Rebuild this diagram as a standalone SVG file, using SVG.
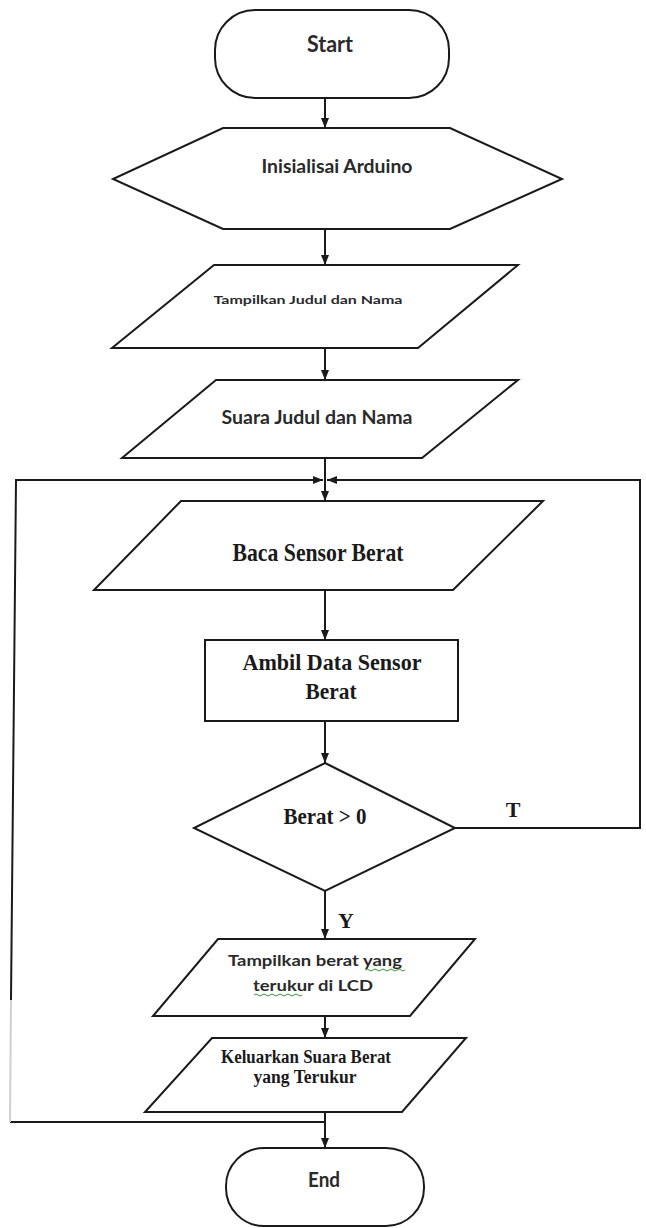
<svg xmlns="http://www.w3.org/2000/svg" width="646" height="1228" viewBox="0 0 646 1228">
<defs>
<marker id="arr" viewBox="0 0 10 8" refX="10" refY="4" markerWidth="10" markerHeight="8" markerUnits="userSpaceOnUse" orient="auto">
<path d="M0,0 L10,4 L0,8 z" fill="#1a1a1a"/>
</marker>
</defs>
<style>
.shape{fill:#fff;stroke:#1a1a1a;stroke-width:2}
.conn{fill:none;stroke:#1a1a1a;stroke-width:2}
.sans{font-family:Lato,"Open Sans","Liberation Sans",sans-serif;font-weight:bold;fill:#2a2a2a;text-anchor:middle}
.serif{font-family:"Liberation Serif","DejaVu Serif",serif;font-weight:bold;fill:#1a1a1a;text-anchor:middle}
.sq{fill:none;stroke:#3a9a3a;stroke-width:1}
</style>
<rect width="646" height="1228" fill="#fff"/>
<g id="connectors">
<line class="conn" x1="325" y1="98" x2="325" y2="128" marker-end="url(#arr)"/>
<line class="conn" x1="325" y1="229" x2="325" y2="265" marker-end="url(#arr)"/>
<line class="conn" x1="325" y1="348" x2="325" y2="380" marker-end="url(#arr)"/>
<line class="conn" x1="325" y1="458" x2="325" y2="501" marker-end="url(#arr)"/>
<line class="conn" x1="325" y1="590" x2="325" y2="640" marker-end="url(#arr)"/>
<line class="conn" x1="325" y1="721" x2="325" y2="763" marker-end="url(#arr)"/>
<line class="conn" x1="325" y1="891" x2="325" y2="939" marker-end="url(#arr)"/>
<line class="conn" x1="325" y1="1016" x2="325" y2="1038" marker-end="url(#arr)"/>
<line class="conn" x1="325" y1="1112" x2="325" y2="1148" marker-end="url(#arr)"/>
<line class="conn" x1="10" y1="1122" x2="325" y2="1122"/>
<line x1="10" y1="1122" x2="11" y2="1000" stroke="#d0d0d0" stroke-width="2"/>
<polyline class="conn" points="11,1000 16,480 323,480" marker-end="url(#arr)"/>
<polyline class="conn" points="455,828 640,828 640,480 327,480" marker-end="url(#arr)"/>
<text class="serif" x="513" y="817" font-size="22">T</text>
<text class="serif" x="346" y="928" font-size="22">Y</text>
</g>
<g id="start">
<rect class="shape" x="215" y="10" width="234" height="88" rx="40" ry="40"/>
<text class="sans" x="330" y="52" font-size="23" textLength="46" lengthAdjust="spacingAndGlyphs">Start</text>
</g>
<g id="init">
<polygon class="shape" points="223,128 450,128 562,179 450,229 223,229 113,179"/>
<text class="sans" x="337" y="173" font-size="19" textLength="151" lengthAdjust="spacingAndGlyphs">Inisialisai Arduino</text>
</g>
<g id="tampil-judul">
<polygon class="shape" points="214,265 518,265 418,348 112,348"/>
<text class="sans" x="308" y="304" font-size="11" textLength="189" lengthAdjust="spacingAndGlyphs">Tampilkan Judul dan Nama</text>
</g>
<g id="suara-judul">
<polygon class="shape" points="216,380 518,380 422,458 122,458"/>
<text class="sans" x="317" y="424" font-size="19" textLength="191" lengthAdjust="spacingAndGlyphs">Suara Judul dan Nama</text>
</g>
<g id="baca-sensor">
<polygon class="shape" points="181,501 543,501 453,590 94,590"/>
<text class="serif" x="318" y="561" font-size="25" textLength="171" lengthAdjust="spacingAndGlyphs">Baca Sensor Berat</text>
</g>
<g id="ambil-data">
<rect class="shape" x="205" y="640" width="253" height="81"/>
<text class="serif" x="332" y="670" font-size="24" textLength="179" lengthAdjust="spacingAndGlyphs">Ambil Data Sensor</text>
<text class="serif" x="331" y="699" font-size="24" textLength="51" lengthAdjust="spacingAndGlyphs">Berat</text>
</g>
<g id="decision">
<polygon class="shape" points="325,763 455,828 325,891 194,828"/>
<text class="serif" x="325" y="824" font-size="23" textLength="83" lengthAdjust="spacingAndGlyphs">Berat &gt; 0</text>
</g>
<g id="tampil-berat">
<polygon class="shape" points="218,939 475,939 410,1016 153,1016"/>
<text class="sans" x="315" y="966" font-size="15" textLength="174" lengthAdjust="spacingAndGlyphs">Tampilkan berat yang</text>
<text class="sans" x="313" y="991" font-size="15" textLength="120" lengthAdjust="spacingAndGlyphs">terukur di  LCD</text>
<path class="sq" d="M365,970 q2,-2 4,0 t4,0 t4,0 t4,0 t4,0 t4,0 t4,0 t4,0 t4,0 t4,0"/>
<path class="sq" d="M254,995 q2,-2 4,0 t4,0 t4,0 t4,0 t4,0 t4,0 t4,0 t4,0 t4,0 t4,0 t4,0 t4,0"/>
</g>
<g id="keluarkan-suara">
<polygon class="shape" points="212,1038 466,1038 402,1112 145,1112"/>
<text class="serif" x="306" y="1063" font-size="18" textLength="170" lengthAdjust="spacingAndGlyphs">Keluarkan Suara Berat</text>
<text class="serif" x="305" y="1083" font-size="18" textLength="103" lengthAdjust="spacingAndGlyphs">yang Terukur</text>
</g>
<g id="end">
<rect class="shape" x="226" y="1148" width="198" height="78" rx="38" ry="38"/>
<text class="sans" x="324" y="1187" font-size="21" textLength="32" lengthAdjust="spacingAndGlyphs">End</text>
</g>
</svg>
